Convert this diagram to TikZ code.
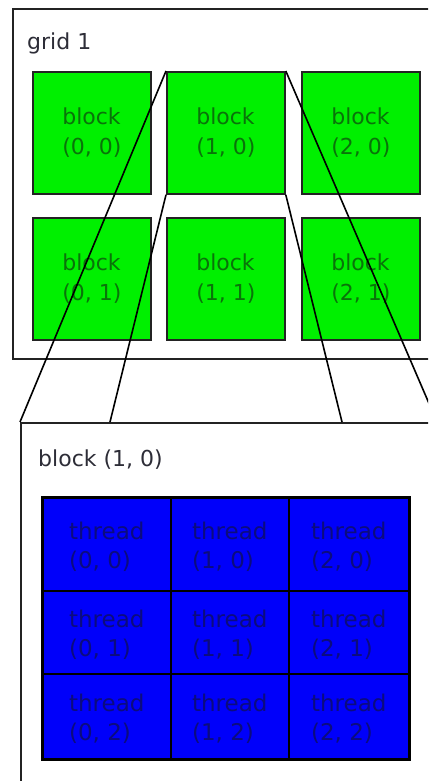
\documentclass[tikz,border=0pt]{standalone}
\usepackage{fontspec}
\setmainfont{DejaVu Sans}
\definecolor{blkgreen}{RGB}{0,240,0}
\definecolor{blktext}{RGB}{10,115,10}
\definecolor{thrblue}{RGB}{0,0,250}
\definecolor{thrtext}{RGB}{12,12,125}
\definecolor{frame}{RGB}{35,35,35}
\definecolor{labeltext}{RGB}{45,45,55}
\tikzset{
  outerbox/.style={draw=frame, line width=2pt, fill=white, rectangle, anchor=north west, inner sep=0pt},
  blk/.style={draw=frame, line width=1.8pt, fill=blkgreen, rectangle, anchor=north west,
     minimum width=118pt, minimum height=122pt, inner sep=0pt},
  blktxt/.style={text=blktext, align=left, font=\fontsize{22}{30}\selectfont, inner sep=0pt},
  thr/.style={draw=black, line width=1.5pt, fill=thrblue, rectangle, anchor=north west, inner sep=0pt},
  thrtxt/.style={text=thrtext, align=left, font=\fontsize{23}{29}\selectfont, inner sep=0pt},
  lbl/.style={text=labeltext, anchor=base west, font=\fontsize{22}{26}\selectfont, inner sep=0pt},
  conn/.style={draw=black, line width=1.6pt},
}
\begin{document}
\begin{tikzpicture}[x=1pt,y=-1pt]
\useasboundingbox (0,0) rectangle (428,781);
\clip (0,0) rectangle (428,781);
\fill[white] (0,0) rectangle (428,781);
% grid box
\node[outerbox, minimum width=440pt, minimum height=350pt] (grid) at (12,8) {};
\node[lbl] (gridlbl) at (27,50) {grid 1};
% green blocks
\node[blk] (b00) at (32,71) {};
\node[blk] (b10) at (166,71) {};
\node[blk] (b20) at (301,71) {};
\node[blk] (b01) at (32,217) {};
\node[blk] (b11) at (166,217) {};
\node[blk] (b21) at (301,217) {};
\node[blktxt] (t00) at (b00.center) {block\\(0, 0)};
\node[blktxt] (t10) at (b10.center) {block\\(1, 0)};
\node[blktxt] (t20) at (b20.center) {block\\(2, 0)};
\node[blktxt] (t01) at (b01.center) {block\\(0, 1)};
\node[blktxt] (t11) at (b11.center) {block\\(1, 1)};
\node[blktxt] (t21) at (b21.center) {block\\(2, 1)};
% lower box
\node[outerbox, minimum width=440pt, minimum height=400pt] (blkbox) at (20,422) {};
\node[lbl] (blklbl) at (38,466) {block (1, 0)};
\coordinate (c2) at (110,422);
\coordinate (c3) at (342,422);
\coordinate (c4) at (437,422);
% thread grid
\foreach \i/\x/\w in {0/42/128,1/170/118,2/288/120}{
  \foreach \j/\y/\h in {0/497/93,1/590/83,2/673/85}{
    \node[thr, minimum width=\w pt, minimum height=\h pt] (th\i\j) at (\x,\y) {};
    \node[thrtxt] (tt\i\j) at ([yshift=-3pt]th\i\j.center) {thread\\(\i, \j)};
  }
}
\draw[black, line width=2pt] (th00.north west) rectangle (th22.south east);
% connectors
\draw[conn] (b10.north west) -- (blkbox.north west);
\draw[conn] (b10.south west) -- (c2);
\draw[conn] (b10.south east) -- (c3);
\draw[conn] (b10.north east) -- (c4);
\end{tikzpicture}
\end{document}
